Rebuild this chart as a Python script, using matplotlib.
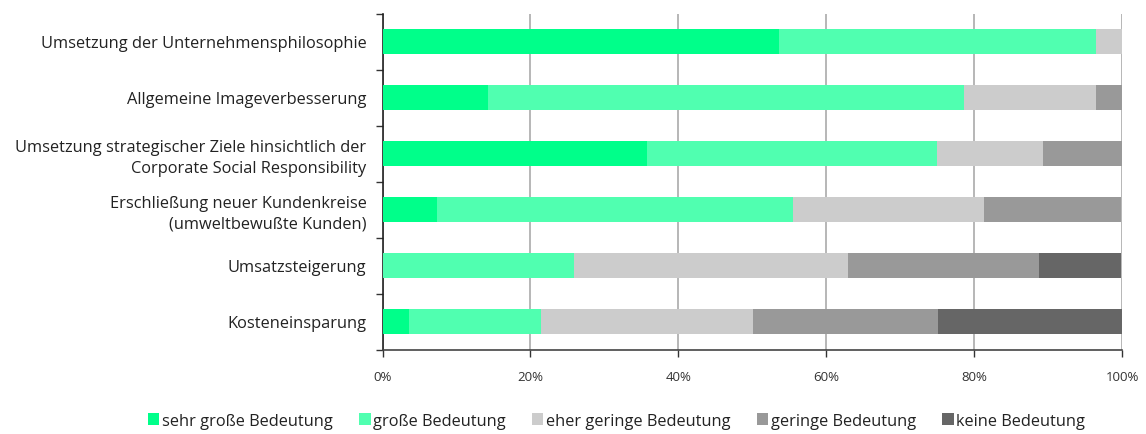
import matplotlib
matplotlib.use("Agg")
import matplotlib.pyplot as plt
import numpy as np
from matplotlib.ticker import FixedLocator

plt.rcParams['font.family'] = ['Open Sans', 'DejaVu Sans']

categories = [
    "Umsetzung der Unternehmensphilosophie",
    "Allgemeine Imageverbesserung",
    "Umsetzung strategischer Ziele hinsichtlich der\nCorporate Social Responsibility",
    "Erschließung neuer Kundenkreise\n(umweltbewußte Kunden)",
    "Umsatzsteigerung",
    "Kosteneinsparung",
]
series_names = ["sehr große Bedeutung", "große Bedeutung", "eher geringe Bedeutung",
                "geringe Bedeutung", "keine Bedeutung"]
sehr_gross = [53.6, 14.3, 35.7, 7.4, 0.0, 3.6]
gross = [42.9, 64.3, 39.3, 48.1, 25.9, 17.9]
eher_gering = [3.6, 17.9, 14.3, 25.9, 37.0, 28.6]
gering = [0.0, 3.6, 10.7, 18.5, 25.9, 25.0]
keine = [0.0, 0.0, 0.0, 0.0, 11.1, 25.0]
colors = ["#00FF8A", "#50FFB0", "#CCCCCC", "#999999", "#666666"]
xticklabels = ["0%", "20%", "40%", "60%", "80%", "100%"]

fig = plt.figure(figsize=(11.46, 4.35), dpi=100)
ax = fig.add_axes([382.5/1146, 1 - 350.5/435, (1122 - 382.5)/1146, (350.5 - 14.5)/435])

y = np.arange(len(categories))
left = np.zeros(len(categories))
handles = []
for vals, col, name in zip([sehr_gross, gross, eher_gering, gering, keine], colors, series_names):
    b = ax.barh(y, vals, left=left, height=0.43, color=col, label=name, zorder=3)
    handles.append(b)
    left += np.array(vals)

ax.set_xlim(0, 100)
ax.set_ylim(len(categories) - 0.5, -0.5)
ax.set_xticks([0, 20, 40, 60, 80, 100])
ax.set_xticklabels(xticklabels, fontsize=9.5, color="#333333")
ax.set_yticks(y)
ax.set_yticklabels(categories, fontsize=11.8, color="#222222", linespacing=1.35)
ax.tick_params(axis='y', which='major', length=0, pad=11.5)
ax.yaxis.set_minor_locator(FixedLocator(np.arange(-0.5, len(categories), 1.0)))
ax.tick_params(axis='y', which='minor', length=5, width=1, color="#333333", direction='out')
ax.tick_params(axis='x', which='major', length=5, width=1, color="#333333", direction='out', pad=10)
ax.grid(axis='x', color="#AAAAAA", linewidth=1.2, zorder=0)
for s in ['top', 'right']:
    ax.spines[s].set_visible(False)
ax.spines['left'].set_color("#222222")
ax.spines['bottom'].set_color("#444444")
ax.spines['left'].set_linewidth(1.2)
ax.spines['bottom'].set_linewidth(1.2)

leg = fig.legend(handles=handles, labels=series_names, loc='lower center', ncol=5,
                 bbox_to_anchor=(0.538, -0.022), frameon=False, fontsize=11.8,
                 handlelength=0.7, handleheight=0.7, handletextpad=0.15, columnspacing=1.6)
for t in leg.get_texts():
    t.set_color("#222222")

fig.savefig("out.png", dpi=100)
